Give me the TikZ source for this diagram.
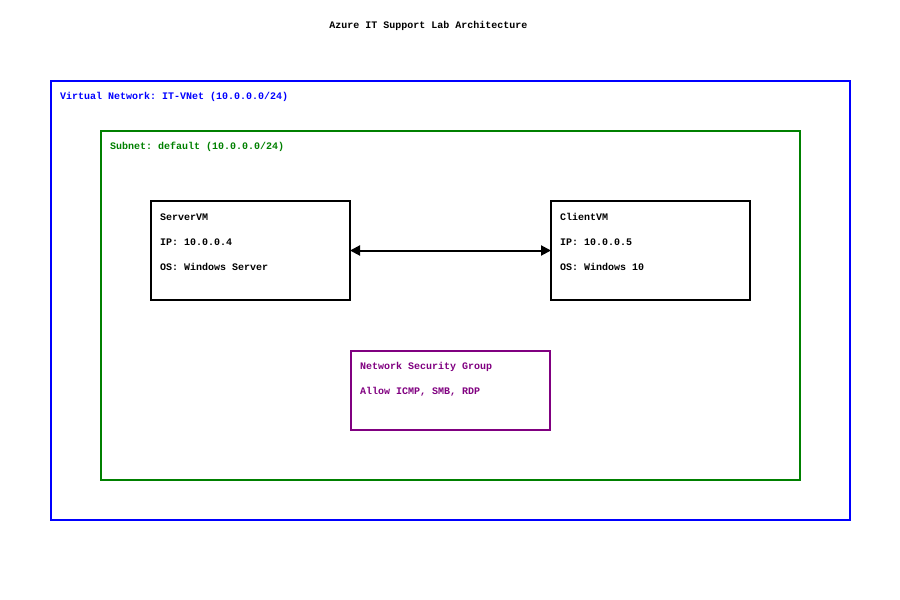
\documentclass[tikz,border=0pt]{standalone}
\usepackage{fontspec}
\setmonofont{Liberation Mono}
\usetikzlibrary{arrows.meta}
\begin{document}
\begin{tikzpicture}[x=1pt,y=-1pt,
  lbl/.style={font=\ttfamily\bfseries\fontsize{10}{12}\selectfont, inner sep=0pt, anchor=west},
  frame/.style={draw, line width=2pt, inner sep=0pt, outer sep=0pt, anchor=north west},
  vmbox/.style={frame, draw=black, minimum width=199pt, minimum height=99pt},
  tip/.style={Triangle[length=11pt,width=11pt]}]
\useasboundingbox (0,0) rectangle (900,600);
\node[lbl, anchor=center] (title) at (428.5,26) {Azure IT Support Lab Architecture};
\node[frame, draw=blue, minimum width=799pt, minimum height=439pt] (vnet) at (51,81) {};
\node[lbl, text=blue] (vnetlbl) at (60,97) {Virtual Network: IT-VNet (10.0.0.0/24)};
\node[frame, draw={rgb,255:red,0;green,128;blue,0}, minimum width=699pt, minimum height=349pt] (subnet) at (101,131) {};
\node[lbl, text={rgb,255:red,0;green,128;blue,0}] (subnetlbl) at (110,147) {Subnet: default (10.0.0.0/24)};
\node[vmbox] (server) at (151,201) {};
\node[lbl] (s1) at (160,217) {ServerVM};
\node[lbl] (s2) at (160,242) {IP: 10.0.0.4};
\node[lbl] (s3) at (160,267) {OS: Windows Server};
\node[vmbox] (client) at (551,201) {};
\node[lbl] (c1) at (560,217) {ClientVM};
\node[lbl] (c2) at (560,242) {IP: 10.0.0.5};
\node[lbl] (c3) at (560,267) {OS: Windows 10};
\node[frame, draw={rgb,255:red,128;green,0;blue,128}, minimum width=199pt, minimum height=79pt] (nsg) at (351,351) {};
\node[lbl, text={rgb,255:red,128;green,0;blue,128}] (n1) at (360,367) {Network Security Group};
\node[lbl, text={rgb,255:red,128;green,0;blue,128}] (n2) at (360,392) {Allow ICMP, SMB, RDP};
\draw[line width=2pt, {Triangle[length=10pt,width=10pt]}-{Triangle[length=10pt,width=10pt]}] (server.east) -- (client.west);
\end{tikzpicture}
\end{document}
